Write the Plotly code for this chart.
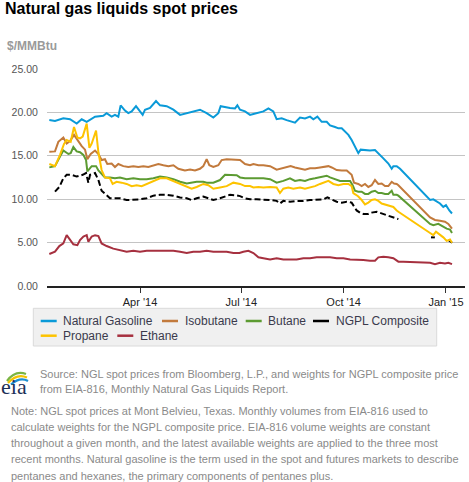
import pandas as pd
import plotly.graph_objects as go

BASE = pd.Timestamp("2014-01-01")

# (day offset from 2014-01-01, $/MMBtu)
natural_gasoline = [(8.5,19.1),(13.6,19.0),(21.1,19.3),(27.1,19.2),(33.1,18.7),(37.6,19.2),(42.1,18.9),(49.6,19.5),(57.0,19.6),(60.0,19.9),(64.5,19.5),(67.5,19.7),(70.5,19.5),(72.6,20.8),(76.5,20.2),(79.5,19.9),(82.5,20.1),(86.4,20.7),(90.0,20.1),(92.4,19.7),(94.5,20.3),(99.0,20.5),(104.4,21.3),(108.0,20.8),(114.0,20.7),(120.0,20.3),(126.0,19.7),(132.0,19.9),(137.9,20.1),(143.9,20.3),(149.9,19.9),(155.9,19.4),(160.4,19.9),(162.5,20.7),(170.9,20.5),(175.4,20.45),(177.5,20.8),(179.9,20.3),(184.4,20.1),(188.9,19.7),(191.9,19.8),(196.4,19.95),(200.9,20.1),(205.4,20.45),(209.8,20.1),(212.8,19.2),(217.3,19.3),(221.8,19.1),(226.3,18.9),(229.3,18.8),(233.8,19.4),(238.3,19.3),(242.8,19.5),(245.8,19.2),(249.4,19.5),(253.3,18.9),(257.8,18.9),(260.8,18.5),(265.3,18.3),(268.3,18.15),(271.3,18.15),(274.3,17.8),(277.3,17.4),(280.2,16.8),(283.2,16.1),(286.2,15.3),(288.3,15.7),(292.2,15.65),(296.7,15.6),(301.2,15.65),(304.2,15.3),(308.7,14.7),(313.2,14.1),(316.2,13.5),(317.7,13.8),(320.7,13.8),(323.7,13.5),(350.7,9.9),(353.6,9.98),(356.6,9.7),(359.6,9.5),(362.6,9.1),(365.0,9.3),(368.0,8.7),(370.4,8.35)]

isobutane = [(8.5,15.47),(13.6,15.5),(16.6,16.6),(21.1,17.1),(24.1,16.4),(27.1,16.7),(30.7,17.4),(34.6,16.6),(37.6,16.1),(40.6,15.7),(42.7,14.6),(45.7,15.2),(49.6,15.6),(52.6,15.2),(55.5,14.5),(58.5,14.6),(60.6,14.05),(64.5,14.1),(67.5,13.7),(70.5,14.05),(75.0,13.8),(79.5,13.7),(84.0,13.8),(88.5,13.7),(93.0,13.8),(97.5,13.7),(102.0,13.9),(106.5,14.05),(111.0,13.9),(115.5,13.8),(120.0,13.9),(124.4,13.5),(130.4,13.3),(135.0,13.4),(139.4,13.3),(143.9,13.5),(146.9,13.8),(149.9,14.6),(152.3,13.9),(155.9,13.7),(160.4,13.9),(163.4,14.5),(167.9,14.6),(170.9,14.58),(176.9,14.58),(179.9,14.5),(184.4,14.05),(188.9,13.9),(191.9,14.05),(196.4,13.9),(200.9,13.9),(206.9,13.8),(212.8,13.4),(217.3,13.55),(221.8,13.65),(225.4,13.8),(229.3,13.65),(233.8,13.55),(238.3,13.4),(242.8,13.55),(247.3,13.55),(251.8,13.65),(256.3,13.7),(259.3,13.8),(262.3,13.65),(266.8,13.35),(271.3,13.3),(275.8,13.3),(280.2,12.8),(282.3,11.9),(286.2,11.75),(289.2,11.5),(292.2,11.75),(295.2,11.4),(298.2,11.6),(301.2,12.2),(304.2,11.75),(307.2,11.8),(310.2,11.5),(313.2,11.5),(316.2,12.0),(318.3,11.8),(320.7,11.75),(322.2,11.6),(350.7,7.9),(355.1,7.6),(359.6,7.5),(364.1,7.4),(367.1,7.15),(370.4,6.6)]

butane = [(8.5,13.66),(13.6,13.8),(18.1,14.9),(21.1,15.6),(25.6,15.2),(27.7,15.3),(30.1,16.0),(33.1,15.5),(36.1,15.4),(39.1,15.1),(41.5,14.5),(42.7,13.2),(46.6,13.8),(50.5,13.8),(52.6,13.3),(55.5,12.9),(58.5,12.5),(63.0,12.5),(67.5,12.4),(72.0,12.5),(78.0,12.3),(84.0,12.4),(90.0,12.3),(96.0,12.3),(102.0,12.4),(108.0,12.6),(114.0,12.5),(120.0,12.3),(126.0,12.0),(132.0,11.8),(136.4,11.9),(140.9,12.0),(146.9,12.0),(149.9,11.9),(155.9,11.9),(161.9,12.2),(166.4,12.8),(170.9,12.8),(176.9,12.75),(179.9,12.5),(184.4,12.4),(188.9,12.4),(194.9,12.4),(200.9,12.4),(206.9,12.3),(212.8,11.9),(218.8,12.1),(224.8,12.4),(229.3,12.1),(233.8,12.2),(238.3,12.1),(242.8,12.3),(247.3,12.4),(251.8,12.5),(257.8,12.7),(260.8,12.5),(265.3,12.3),(269.8,12.1),(274.3,12.1),(278.8,12.1),(281.1,11.6),(283.2,10.97),(286.2,10.86),(289.2,10.86),(292.2,10.6),(295.2,10.6),(298.2,10.86),(301.2,10.97),(304.2,10.7),(307.2,10.7),(310.2,10.6),(313.2,10.6),(316.2,10.97),(317.7,10.5),(320.7,10.5),(322.2,10.4),(350.7,7.15),(353.6,7.0),(358.1,7.15),(362.6,6.8),(365.6,6.6),(368.6,6.5),(370.4,6.1)]

ngpl_composite = [(13.6,10.86),(17.5,11.4),(21.1,12.4),(24.1,12.8),(28.6,12.8),(33.1,12.6),(38.5,12.8),(41.5,13.0),(43.6,11.9),(45.1,12.8),(49.6,13.0),(52.6,12.2),(55.5,10.97),(59.5,10.5),(63.0,10.1),(67.5,10.1),(72.0,10.1),(78.0,9.9),(84.0,9.9),(90.0,9.98),(96.0,10.1),(102.0,10.4),(108.0,10.5),(114.0,10.5),(120.0,10.4),(126.0,10.2),(132.0,10.1),(136.4,9.9),(140.9,10.1),(146.9,10.3),(151.4,10.1),(155.9,9.9),(161.9,10.1),(167.9,10.4),(170.9,10.5),(175.4,10.45),(179.9,10.35),(184.4,10.1),(188.9,9.98),(194.9,9.98),(200.9,9.98),(206.9,9.9),(212.8,9.8),(215.8,9.5),(218.8,9.8),(224.8,9.7),(230.8,9.8),(236.8,9.8),(242.8,9.9),(248.8,9.98),(254.8,9.98),(258.4,10.2),(262.3,9.98),(266.8,9.7),(271.3,9.6),(275.8,9.7),(280.2,9.6),(282.3,9.1),(284.7,8.7),(287.7,8.45),(290.7,8.3),(295.2,8.3),(298.2,8.45),(302.7,8.55),(307.2,8.35),(311.7,8.2),(316.2,8.0),(319.2,7.9),(322.2,7.7),(336.0,None),(351.5,5.6),(355.0,5.6),(362.0,None),(367.1,5.3),(370.4,4.98)]

propane = [(8.5,14.05),(13.6,13.8),(18.1,15.1),(21.7,16.35),(24.1,16.8),(27.7,16.6),(30.7,18.3),(33.7,17.1),(36.1,17.0),(38.5,17.2),(42.1,18.7),(44.5,15.9),(46.6,16.4),(50.5,17.9),(52.6,15.4),(55.5,13.35),(58.5,12.5),(63.0,12.4),(65.4,11.75),(69.0,12.0),(73.5,11.9),(78.0,11.75),(82.5,11.5),(87.0,11.6),(91.5,11.5),(96.0,11.75),(102.0,12.0),(108.0,12.4),(114.0,12.4),(120.0,12.1),(126.0,11.75),(132.0,11.5),(136.4,11.2),(140.9,11.4),(146.9,11.75),(151.4,11.6),(155.9,11.2),(161.9,11.35),(167.9,11.5),(173.9,11.9),(176.9,11.8),(179.9,11.75),(184.4,11.5),(188.9,11.5),(191.9,11.35),(196.4,11.4),(200.9,11.35),(206.9,11.4),(212.8,11.35),(215.8,10.7),(218.8,11.2),(223.3,11.35),(227.8,11.2),(233.8,11.35),(238.3,11.2),(242.8,11.35),(247.3,11.5),(251.8,11.75),(256.3,12.0),(259.3,12.1),(263.8,11.75),(268.3,11.6),(272.8,11.75),(277.3,11.75),(280.2,11.5),(281.7,10.7),(284.1,10.5),(286.2,10.3),(289.2,9.9),(292.2,9.4),(295.2,9.6),(298.2,9.9),(301.2,9.98),(304.2,9.8),(307.2,9.5),(310.2,9.4),(313.2,9.3),(316.2,9.2),(317.7,9.1),(320.7,8.7),(322.2,8.55),(350.7,6.1),(353.6,5.85),(356.0,6.25),(359.0,6.0),(362.6,5.6),(365.6,5.2),(368.6,5.35),(370.4,4.98)]

ethane = [(8.5,3.68),(13.6,3.95),(17.5,4.6),(21.1,4.9),(24.1,5.85),(27.1,5.3),(30.1,4.8),(33.7,4.7),(36.1,5.3),(39.1,5.7),(42.1,5.85),(43.6,5.1),(46.6,5.7),(49.6,5.85),(52.6,5.75),(55.5,4.9),(60.0,4.6),(66.0,4.3),(72.0,4.1),(78.0,3.95),(84.0,4.06),(90.0,3.95),(96.0,4.06),(102.0,4.06),(108.0,4.1),(114.0,4.06),(120.0,4.06),(126.0,3.95),(132.0,3.8),(137.9,3.95),(143.9,3.95),(149.9,4.06),(155.9,3.95),(161.9,3.95),(167.9,3.95),(173.9,3.8),(179.3,3.8),(182.9,3.95),(187.4,4.06),(191.9,3.8),(196.4,3.3),(200.9,3.2),(206.9,3.06),(212.8,3.2),(218.8,3.06),(224.8,3.06),(230.8,3.06),(236.8,3.2),(242.8,3.2),(248.8,3.3),(254.8,3.3),(260.8,3.3),(266.8,3.2),(272.8,3.2),(278.8,3.06),(284.7,3.06),(290.7,3.0),(296.7,2.9),(301.2,2.9),(304.2,3.3),(308.7,3.37),(313.2,3.3),(317.7,3.2),(322.2,2.8),(326.7,2.8),(350.7,2.68),(355.1,2.52),(359.6,2.68),(364.1,2.6),(367.1,2.68),(370.4,2.52)]

series_names = ["Natural Gasoline", "Isobutane", "Butane", "NGPL Composite", "Propane", "Ethane"]
series_data = [natural_gasoline, isobutane, butane, ngpl_composite, propane, ethane]
series_colors = ["#0a9ad8", "#c27a3c", "#5c9b32", "#000000", "#fdc300", "#a6303f"]
series_dash = ["solid", "solid", "solid", "6px,3px", "solid", "solid"]

y_ticks = [0, 5, 10, 15, 20, 25]
x_tick_dates = ["2014-04-01", "2014-07-01", "2014-10-01", "2015-01-01"]
x_tick_labels = ["Apr '14", "Jul '14", "Oct '14", "Jan '15"]

FONT = "Liberation Sans, Arial, sans-serif"
W, H = 469, 482
ML, MR, MT, MB = 47, 4, 68, 196
PW, PH = W - ML - MR, H - MT - MB


def P(x, y):
    return (x - ML) / PW, (H - MB - y) / PH


fig = go.Figure()
for name, data, color, dash in zip(series_names, series_data, series_colors, series_dash):
    days = [d for d, _ in data]
    vals = [v for _, v in data]
    dates = BASE + pd.to_timedelta(days, unit="D")
    fig.add_trace(go.Scatter(x=dates, y=vals, mode="lines", name=name,
                             connectgaps=False,
                             line=dict(color=color, width=2, dash=dash)))

shapes = []
annotations = []

# legend box
x0, y0 = P(33.3, 308.3)
x1, y1 = P(436.7, 346)
shapes.append(dict(type="rect", xref="paper", yref="paper", x0=x0, y0=y0, x1=x1, y1=y1,
                   fillcolor="#f0f0f0", line=dict(color="#dadada", width=1)))
legend_pos = [(40.7, 321.0), (162.0, 321.0), (245.7, 321.0), (313.0, 321.0), (40.7, 335.7), (117.3, 335.7)]
for name, color, (lx, ly) in zip(series_names, series_colors, legend_pos):
    a0, b0 = P(lx, ly)
    a1, _ = P(lx + 16, ly)
    shapes.append(dict(type="line", xref="paper", yref="paper", x0=a0, y0=b0, x1=a1, y1=b0,
                       line=dict(color=color, width=2.5)))
    tx, ty = P(lx + 20.5, ly + 0.3)
    annotations.append(dict(text=name, x=tx, y=ty, xref="paper", yref="paper",
                            xanchor="left", yanchor="middle", showarrow=False,
                            font=dict(family=FONT, size=12, color="#3a3a4c")))

# y-axis unit label
ux, uy = P(5, 45.8)
annotations.append(dict(text="$/MMBtu", x=ux, y=uy, xref="paper", yref="paper",
                        xanchor="left", yanchor="middle", showarrow=False,
                        font=dict(family=FONT, size=12, color="#9a9a9a", weight="bold")))

# EIA logo
lx, ly = P(-1.5, 386.0)
annotations.append(dict(text="eia", x=lx, y=ly, xref="paper", yref="paper",
                        xanchor="left", yanchor="middle", showarrow=False,
                        font=dict(family="Liberation Serif, DejaVu Serif, serif", size=22, color="#1d2f57")))
swooshes = [([(7, 381), (15, 370), (26, 374)], "#7bb542"),
            ([(8, 383), (17, 373), (27, 377.5)], "#f4c300"),
            ([(11, 384.5), (20, 376.5), (28, 381)], "#1b8fd2")]
for pts, col in swooshes:
    (ax, ay), (bx, by), (cx, cy) = [P(*p) for p in pts]
    shapes.append(dict(type="path", xref="paper", yref="paper",
                       path=f"M {ax} {ay} Q {bx} {by} {cx} {cy}",
                       line=dict(color=col, width=2.2)))

source_lines = ["Source: NGL spot prices from Bloomberg, L.P., and weights for NGPL composite price",
                "from EIA-816, Monthly Natural Gas Liquids Report."]
for i, t in enumerate(source_lines):
    sx, sy = P(37.5, 374.3 + 15 * i)
    annotations.append(dict(text=t, x=sx, y=sy, xref="paper", yref="paper",
                            xanchor="left", yanchor="middle", showarrow=False,
                            font=dict(family=FONT, size=11, color="#8a8a8a")))

note_lines = ["Note: NGL spot prices at Mont Belvieu, Texas. Monthly volumes from EIA-816 used to",
              "calculate weights for the NGPL composite price. EIA-816 volume weights are constant",
              "throughout a given month, and the latest available weights are applied to the three most",
              "recent months. Natural gasoline is the term used in the spot and futures markets to describe",
              "pentanes and hexanes, the primary components of pentanes plus."]
for i, t in enumerate(note_lines):
    nx, ny = P(9.2, 411.2 + 16.08 * i)
    annotations.append(dict(text=t, x=nx, y=ny, xref="paper", yref="paper",
                            xanchor="left", yanchor="middle", showarrow=False,
                            font=dict(family=FONT, size=11, color="#8a8a8a")))

fig.update_layout(
    width=W, height=H,
    margin=dict(l=ML, r=MR, t=MT, b=MB),
    paper_bgcolor="white", plot_bgcolor="white",
    showlegend=False,
    hovermode=False,
    font=dict(family=FONT),
    title=dict(text="Natural gas liquids spot prices", x=5 / W, xanchor="left", xref="container",
               y=1 - 8.3 / H, yanchor="middle", yref="container",
               font=dict(family=FONT, size=16, color="#000000", weight="bold")),
    xaxis=dict(type="date", range=["2014-01-07 10:00", "2015-01-18 02:00"],
               tickvals=x_tick_dates, ticktext=x_tick_labels,
               ticks="outside", ticklen=5, tickwidth=1, tickcolor="#333333",
               showline=True, linecolor="#222222", linewidth=1.5,
               showgrid=False, zeroline=False,
               tickfont=dict(family=FONT, size=11, color="#222222")),
    yaxis=dict(range=[0, 25.1], tickvals=y_ticks, tickformat=".2f",
               showgrid=True, gridcolor="#c4c4c4", gridwidth=1,
               zeroline=False, showline=False,
               ticks="outside", ticklen=6, tickcolor="rgba(0,0,0,0)",
               tickfont=dict(family=FONT, size=10.5, color="#555555")),
    shapes=shapes,
    annotations=annotations,
)

fig.write_html("out.html",
               config={"displayModeBar": False, "staticPlot": True},
               post_script="document.body.style.margin='0';document.body.style.overflow='hidden';")
